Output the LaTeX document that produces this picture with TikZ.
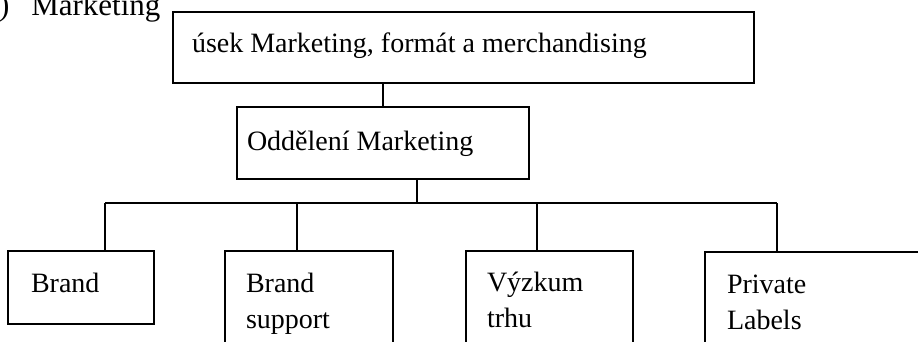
\documentclass[tikz,border=0pt]{standalone}
\usepackage{fontspec}
\setmainfont{Liberation Serif}
\begin{document}
\begin{tikzpicture}[x=1pt,y=-1pt,
  every node/.style={inner sep=0pt, outer sep=0pt},
  unit/.style={draw, line width=1.3pt, anchor=north west},
  caption/.style={anchor=base west, font=\fontsize{28}{36}\selectfont, align=left},
  link/.style={line width=1.3pt}]
\useasboundingbox (0,0) rectangle (918,342);
\clip (0,0) rectangle (918,342);

% heading of the section
\node[caption, font=\fontsize{31}{36}\selectfont] (head) at (-1,16) {)\hspace{22pt}Marketing};

% management levels
\node[unit, minimum width=581pt, minimum height=71pt] (usek) at (173,12) {};
\node[caption] (usekt) at (192,53) {úsek Marketing, formát a merchandising};

\node[unit, minimum width=292pt, minimum height=72pt] (odd) at (237,107) {};
\node[caption] (oddt) at (247,150) {Oddělení Marketing};

% teams (the base anchor of a two-line caption sits on its last line)
\node[unit, minimum width=146pt, minimum height=73pt] (brand) at (8,251) {};
\node[caption] (brandt) at (31,292) {Brand};

\node[unit, minimum width=168pt, minimum height=120pt] (support) at (225,251) {};
\node[caption] (supportt) at (246,328) {Brand\\support};

\node[unit, minimum width=167pt, minimum height=120pt] (vyzkum) at (466,251) {};
\node[caption] (vyzkumt) at (487,327) {Výzkum\\trhu};

\node[unit, minimum width=240pt, minimum height=120pt] (private) at (705,252) {};
\node[caption] (privatet) at (727,329) {Private\\Labels};

% connectors
\coordinate (bus) at (417,203);
\coordinate (dBrand) at (105,203);
\coordinate (dSupport) at (297,203);
\coordinate (dVyzkum) at (537,203);
\coordinate (dPrivate) at (777,203);

\draw[link] (odd.north) -- (odd.north |- usek.south);
\draw[link] (bus |- odd.south) -- (bus);
\draw[link] (dBrand) -- (dPrivate);
\draw[link] (dBrand) -- (dBrand |- brand.north);
\draw[link] (dSupport) -- (dSupport |- support.north);
\draw[link] (dVyzkum) -- (dVyzkum |- vyzkum.north);
\draw[link] (dPrivate) -- (dPrivate |- private.north);
\end{tikzpicture}
\end{document}
